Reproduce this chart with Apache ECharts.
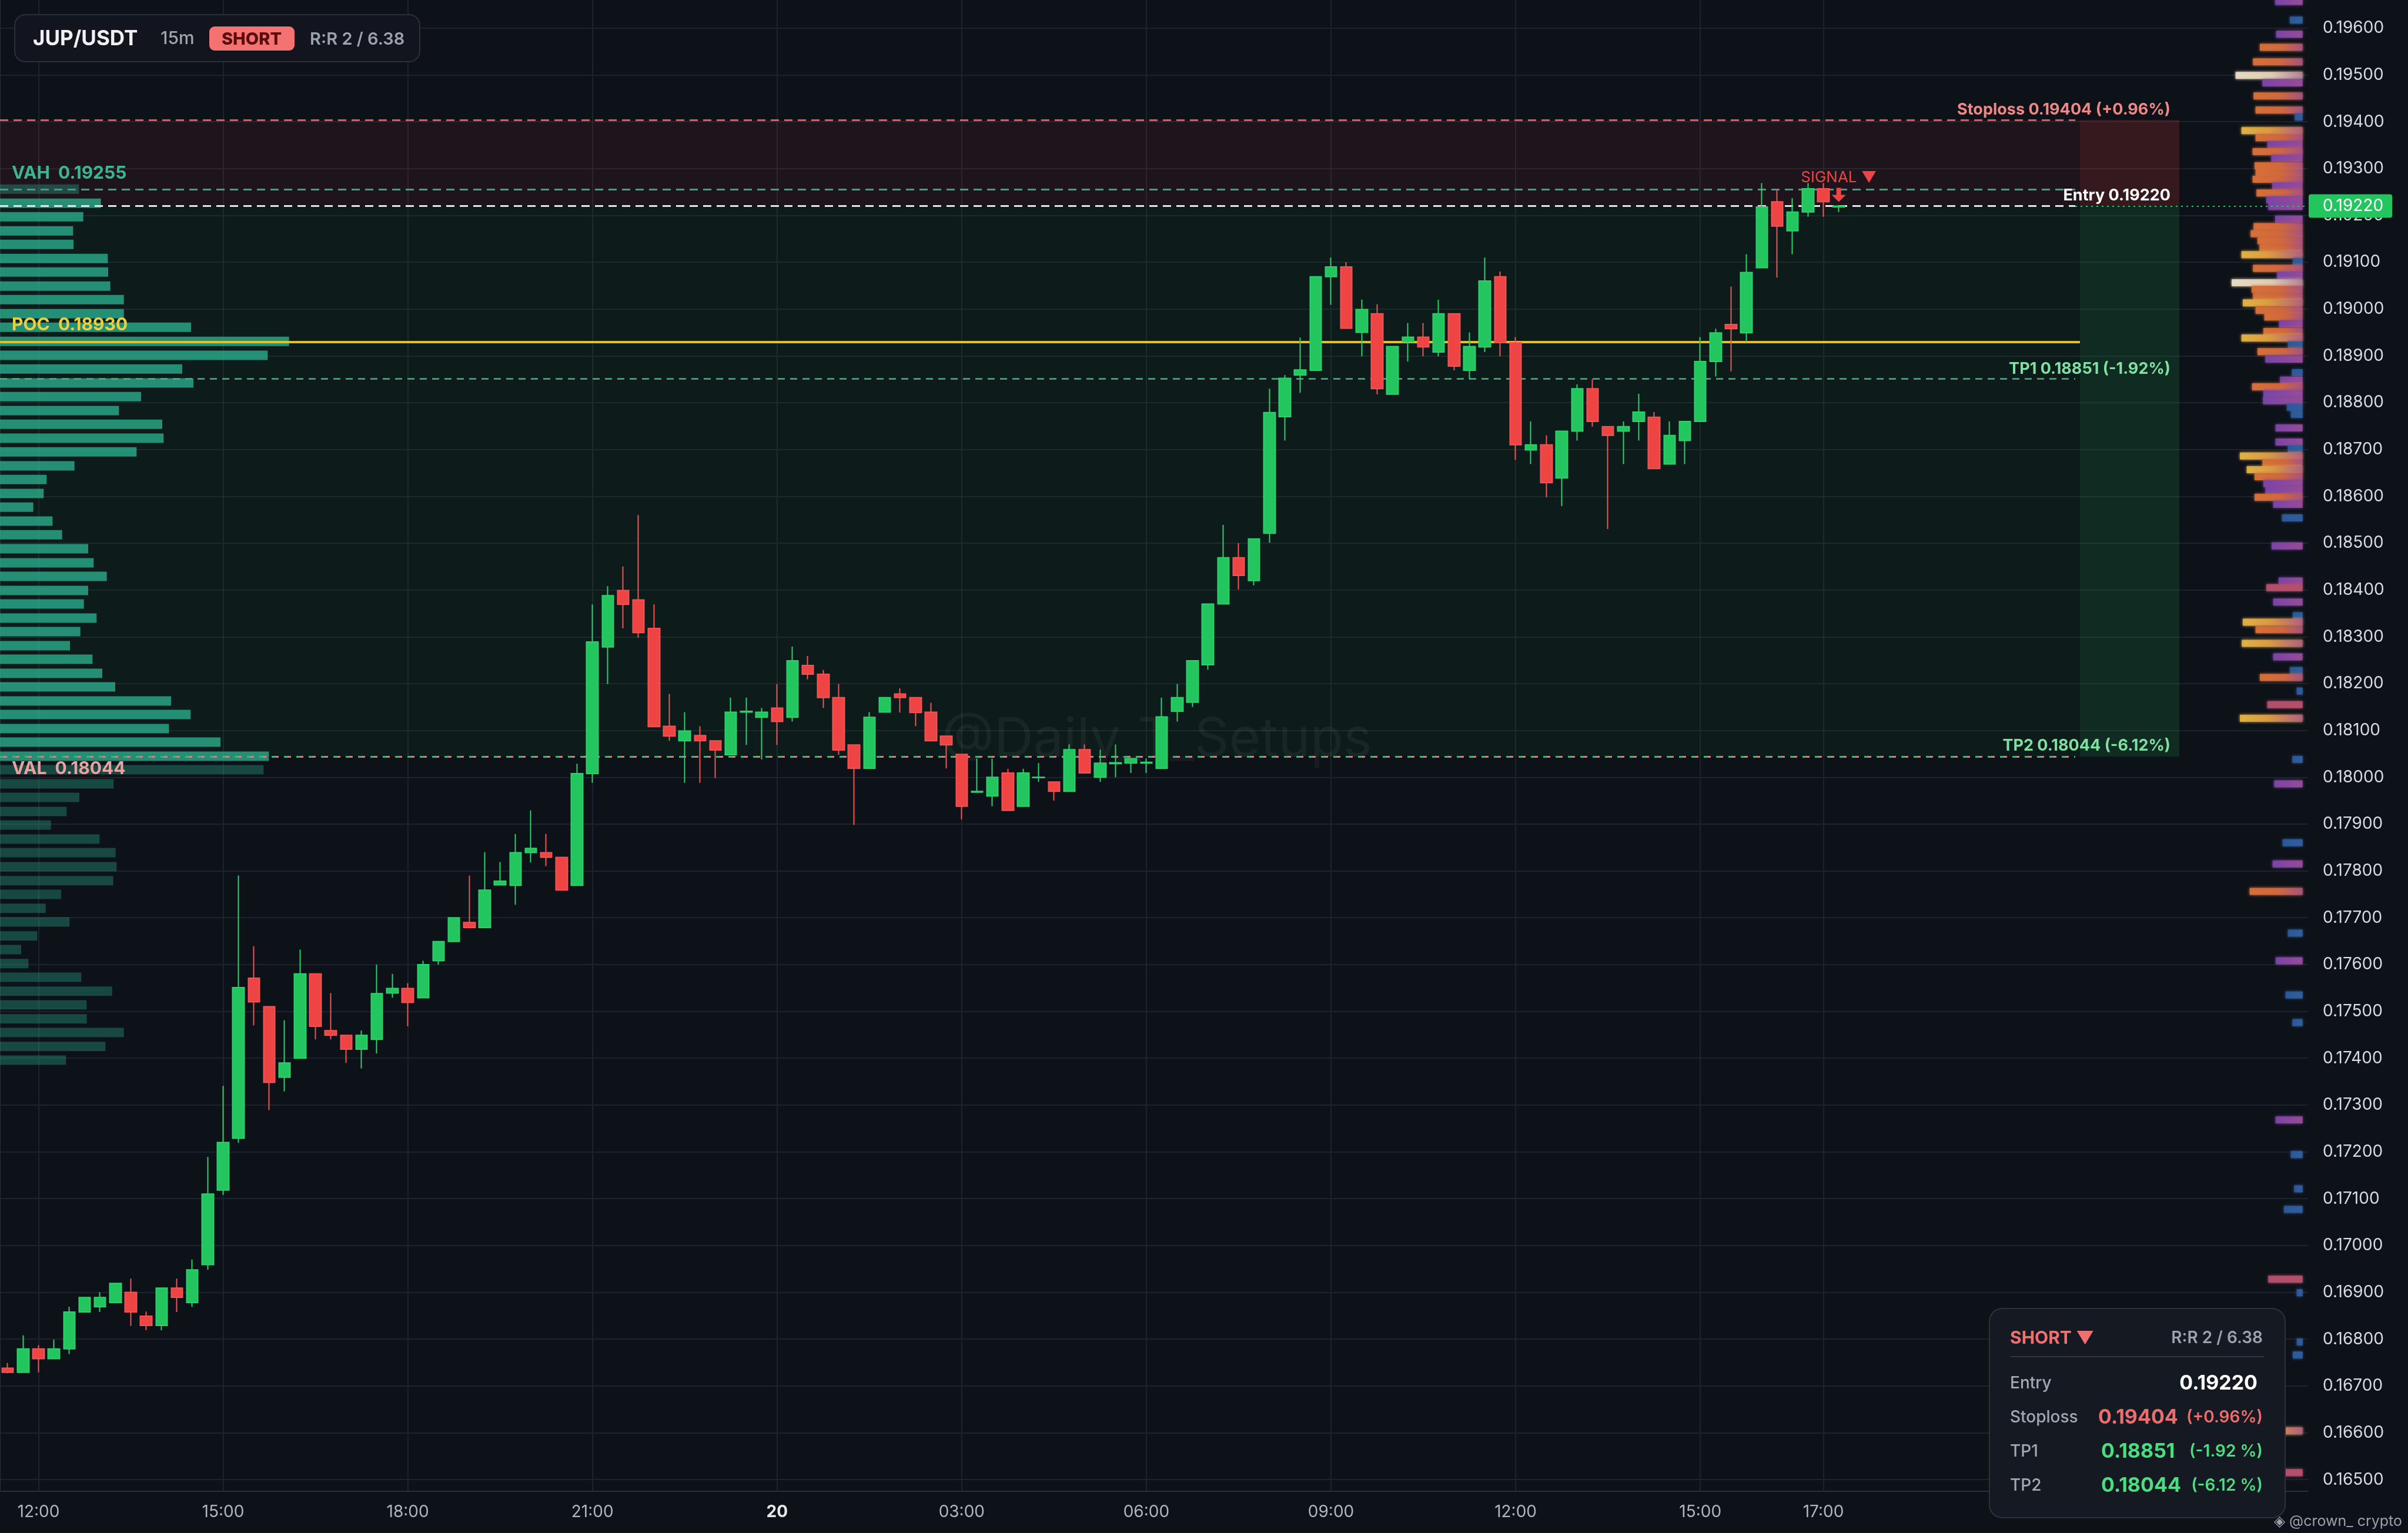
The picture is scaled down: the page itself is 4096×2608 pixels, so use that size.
<!DOCTYPE html>
<html>
<head>
<meta charset="utf-8">
<title>JUP/USDT 15m</title>
<script src="https://cdn.jsdelivr.net/npm/echarts@6.0.0/dist/echarts.min.js"></script>
<style>
html,body{margin:0;padding:0;background:#0d1118;}
#chart{width:4096px;height:2608px;}
</style>
</head>
<body>
<div id="chart"></div>
<script>
// ---------- DATA ----------
const symbolName = 'JUP/USDT';
const timeframe = '15m';

// 15-minute slots starting 19th 11:30 (120 candles, axis has room for 150 slots)
const categories = [];
for (let i = 0; i < 150; i++) {
  const m = 11 * 60 + 30 + 15 * i;
  const day = 19 + Math.floor(m / 1440);
  const mm = m % 1440;
  categories.push(day + ' ' + String(Math.floor(mm / 60)).padStart(2, '0') + ':' + String(mm % 60).padStart(2, '0'));
}
const timeTicks = ['19 12:00', '19 15:00', '19 18:00', '19 21:00', '20 00:00', '20 03:00', '20 06:00', '20 09:00', '20 12:00', '20 15:00', '20 17:00'];
const priceTicks = [0.165, 0.166, 0.167, 0.168, 0.169, 0.170, 0.171, 0.172, 0.173, 0.174, 0.175, 0.176, 0.177, 0.178, 0.179, 0.180,
  0.181, 0.182, 0.183, 0.184, 0.185, 0.186, 0.187, 0.188, 0.189, 0.190, 0.191, 0.192, 0.193, 0.194, 0.195, 0.196];

const opens = [
  0.16738, 0.16729, 0.16779, 0.16758, 0.16779, 0.16858, 0.16869, 0.16878, 0.16900, 0.16849,
  0.16829, 0.16909, 0.16878, 0.16959, 0.17118, 0.17229, 0.17571, 0.17510, 0.17359, 0.17400,
  0.17580, 0.17459, 0.17449, 0.17419, 0.17440, 0.17539, 0.17549, 0.17529, 0.17608, 0.17649,
  0.17690, 0.17679, 0.17770, 0.17769, 0.17839, 0.17839, 0.17829, 0.17769, 0.18008, 0.18278,
  0.18399, 0.18379, 0.18318, 0.18109, 0.18078, 0.18089, 0.18078, 0.18048, 0.18139, 0.18128,
  0.18148, 0.18128, 0.18239, 0.18220, 0.18170, 0.18069, 0.18019, 0.18139, 0.18178, 0.18170,
  0.18139, 0.18088, 0.18049, 0.17968, 0.17960, 0.18009, 0.17938, 0.17999, 0.17990, 0.17970,
  0.18059, 0.18000, 0.18029, 0.18030, 0.18030, 0.18019, 0.18141, 0.18160, 0.18240, 0.18370,
  0.18469, 0.18420, 0.18521, 0.18770, 0.18859, 0.18869, 0.19069, 0.19090, 0.18950, 0.18990,
  0.18818, 0.18930, 0.18940, 0.18908, 0.18990, 0.18869, 0.18919, 0.19069, 0.18928, 0.18699,
  0.18710, 0.18639, 0.18739, 0.18830, 0.18749, 0.18739, 0.18760, 0.18769, 0.18669, 0.18719,
  0.18760, 0.18888, 0.18967, 0.18949, 0.19088, 0.19229, 0.19167, 0.19207, 0.19257, 0.19218
];
const closes = [
  0.16729, 0.16779, 0.16758, 0.16779, 0.16858, 0.16889, 0.16889, 0.16919, 0.16858, 0.16829,
  0.16909, 0.16889, 0.16948, 0.17110, 0.17220, 0.17551, 0.17520, 0.17348, 0.17390, 0.17580,
  0.17468, 0.17449, 0.17419, 0.17449, 0.17538, 0.17549, 0.17519, 0.17600, 0.17649, 0.17700,
  0.17679, 0.17759, 0.17778, 0.17839, 0.17848, 0.17829, 0.17759, 0.18008, 0.18289, 0.18388,
  0.18369, 0.18309, 0.18108, 0.18088, 0.18099, 0.18078, 0.18058, 0.18139, 0.18141, 0.18139,
  0.18119, 0.18249, 0.18220, 0.18170, 0.18058, 0.18019, 0.18128, 0.18170, 0.18170, 0.18138,
  0.18078, 0.18069, 0.17938, 0.17970, 0.18000, 0.17929, 0.18009, 0.18000, 0.17970, 0.18059,
  0.18009, 0.18030, 0.18031, 0.18040, 0.18032, 0.18129, 0.18170, 0.18249, 0.18370, 0.18469,
  0.18431, 0.18509, 0.18779, 0.18852, 0.18870, 0.19069, 0.19090, 0.18959, 0.18999, 0.18830,
  0.18920, 0.18940, 0.18919, 0.18990, 0.18878, 0.18920, 0.19060, 0.18928, 0.18710, 0.18710,
  0.18629, 0.18739, 0.18830, 0.18760, 0.18730, 0.18749, 0.18780, 0.18659, 0.18730, 0.18760,
  0.18888, 0.18949, 0.18958, 0.19078, 0.19218, 0.19177, 0.19207, 0.19257, 0.19229, 0.19220
];
const lows = [
  0.16727, 0.16729, 0.16729, 0.16758, 0.16768, 0.16858, 0.16858, 0.16878, 0.16828, 0.16819,
  0.16819, 0.16858, 0.16869, 0.16948, 0.17108, 0.17219, 0.17470, 0.17289, 0.17329, 0.17400,
  0.17440, 0.17440, 0.17390, 0.17378, 0.17410, 0.17529, 0.17468, 0.17529, 0.17600, 0.17649,
  0.17679, 0.17679, 0.17770, 0.17728, 0.17818, 0.17810, 0.17759, 0.17769, 0.17988, 0.18199,
  0.18318, 0.18298, 0.18108, 0.18078, 0.17988, 0.17988, 0.17998, 0.18048, 0.18069, 0.18038,
  0.18069, 0.18119, 0.18209, 0.18148, 0.18048, 0.17898, 0.18019, 0.18139, 0.18138, 0.18109,
  0.18078, 0.18019, 0.17910, 0.17968, 0.17938, 0.17929, 0.17938, 0.17990, 0.17950, 0.17970,
  0.18009, 0.17990, 0.18000, 0.18009, 0.18009, 0.18019, 0.18119, 0.18150, 0.18230, 0.18370,
  0.18401, 0.18410, 0.18501, 0.18719, 0.18821, 0.18869, 0.19009, 0.18959, 0.18899, 0.18818,
  0.18818, 0.18888, 0.18899, 0.18899, 0.18869, 0.18850, 0.18908, 0.18899, 0.18678, 0.18669,
  0.18598, 0.18579, 0.18719, 0.18749, 0.18530, 0.18669, 0.18719, 0.18659, 0.18669, 0.18669,
  0.18760, 0.18856, 0.18867, 0.18930, 0.19088, 0.19067, 0.19117, 0.19197, 0.19197, 0.19207
];
const highs = [
  0.16749, 0.16808, 0.16787, 0.16799, 0.16869, 0.16889, 0.16900, 0.16919, 0.16929, 0.16859,
  0.16909, 0.16929, 0.16970, 0.17189, 0.17341, 0.17790, 0.17639, 0.17510, 0.17481, 0.17632,
  0.17580, 0.17539, 0.17449, 0.17459, 0.17600, 0.17580, 0.17560, 0.17608, 0.17649, 0.17700,
  0.17790, 0.17840, 0.17819, 0.17879, 0.17929, 0.17879, 0.17829, 0.18029, 0.18369, 0.18408,
  0.18450, 0.18560, 0.18369, 0.18178, 0.18139, 0.18109, 0.18078, 0.18170, 0.18170, 0.18148,
  0.18199, 0.18279, 0.18259, 0.18229, 0.18199, 0.18069, 0.18139, 0.18170, 0.18190, 0.18170,
  0.18159, 0.18088, 0.18049, 0.18040, 0.18040, 0.18018, 0.18018, 0.18030, 0.17990, 0.18070,
  0.18070, 0.18059, 0.18070, 0.18040, 0.18040, 0.18170, 0.18199, 0.18249, 0.18370, 0.18539,
  0.18500, 0.18509, 0.18830, 0.18859, 0.18939, 0.19069, 0.19110, 0.19100, 0.19020, 0.19010,
  0.18920, 0.18970, 0.18970, 0.19020, 0.18990, 0.18950, 0.19110, 0.19080, 0.18940, 0.18760,
  0.18730, 0.18739, 0.18839, 0.18850, 0.18749, 0.18760, 0.18819, 0.18780, 0.18760, 0.18760,
  0.18940, 0.18958, 0.19048, 0.19117, 0.19269, 0.19257, 0.19237, 0.19269, 0.19269, 0.19222
];

// Trade levels
const entryPrice = 0.19220;
const stopLoss = 0.19404;
const tp1 = 0.18851;
const tp2 = 0.18044;
const vahPrice = 0.19255;
const pocPrice = 0.18930;
const valPrice = 0.18044;
const signalIndex = 119;

// Left volume profile (session)
const profileLPrices = [
  0.19256, 0.19226, 0.19197, 0.19167, 0.19138, 0.19108, 0.19079, 0.19049, 0.19020, 0.18990,
  0.18961, 0.18931, 0.18901, 0.18872, 0.18842, 0.18813, 0.18783, 0.18754, 0.18724, 0.18695,
  0.18665, 0.18636, 0.18606, 0.18577, 0.18547, 0.18518, 0.18488, 0.18458, 0.18429, 0.18399,
  0.18370, 0.18340, 0.18311, 0.18281, 0.18252, 0.18222, 0.18193, 0.18163, 0.18134, 0.18104,
  0.18075, 0.18045, 0.18016, 0.17986, 0.17957, 0.17927, 0.17898, 0.17868, 0.17839, 0.17809,
  0.17779, 0.17750, 0.17720, 0.17691, 0.17661, 0.17632, 0.17602, 0.17573, 0.17543, 0.17514,
  0.17484, 0.17455, 0.17425, 0.17396
];
const profileLVol = [
  403, 515, 425, 373, 375, 550, 552, 563, 632, 632,
  975, 1475, 1366, 930, 987, 720, 607, 828, 835, 697,
  380, 238, 223, 170, 268, 317, 450, 478, 545, 450,
  428, 493, 410, 357, 472, 522, 588, 873, 973, 862,
  1125, 1372, 1345, 580, 405, 340, 260, 508, 590, 595,
  578, 312, 233, 355, 190, 108, 145, 415, 572, 442,
  443, 632, 538, 337
];

// Right volume profile (visible range, coloured)
const profileRPrices = [
  0.19657, 0.19617, 0.19587, 0.19559, 0.19528, 0.19499, 0.19483, 0.19455, 0.19425, 0.19410,
  0.19381, 0.19366, 0.19351, 0.19336, 0.19322, 0.19306, 0.19292, 0.19277, 0.19263, 0.19248,
  0.19233, 0.19219, 0.19192, 0.19176, 0.19161, 0.19146, 0.19131, 0.19116, 0.19101, 0.19087,
  0.19072, 0.19056, 0.19042, 0.19027, 0.19013, 0.18997, 0.18983, 0.18968, 0.18952, 0.18938,
  0.18923, 0.18909, 0.18893, 0.18864, 0.18848, 0.18834, 0.18819, 0.18804, 0.18790, 0.18775,
  0.18746, 0.18716, 0.18701, 0.18686, 0.18671, 0.18657, 0.18642, 0.18627, 0.18613, 0.18598,
  0.18583, 0.18554, 0.18494, 0.18419, 0.18405, 0.18374, 0.18345, 0.18331, 0.18315, 0.18286,
  0.18257, 0.18228, 0.18213, 0.18184, 0.18155, 0.18126, 0.18038, 0.17986, 0.17860, 0.17815,
  0.17756, 0.17667, 0.17608, 0.17535, 0.17476, 0.17268, 0.17194, 0.17121, 0.17077, 0.16928,
  0.16899, 0.16794, 0.16766, 0.16604, 0.16515
];
const profileRVol = [
  140, 65, 135, 218, 253, 342, 205, 250, 240, 40,
  312, 240, 180, 255, 160, 245, 240, 255, 155, 235,
  185, 175, 140, 250, 265, 230, 220, 312, 50, 253,
  130, 362, 260, 253, 305, 240, 195, 120, 200, 312,
  75, 230, 190, 55, 115, 258, 200, 202, 80, 60,
  138, 138, 75, 320, 205, 285, 245, 200, 190, 245,
  150, 105, 158, 122, 185, 150, 50, 305, 240, 310,
  150, 65, 218, 30, 180, 320, 52, 145, 102, 153,
  270, 75, 137, 87, 52, 138, 60, 43, 95, 175,
  30, 30, 50, 300, 250
];
const profileRColor = [
  'p', 'b', 'p', 'o', 'o', 'c', 'p', 'o', 'o', 'b',
  'y', 'o', 'p', 'o', 'p', 'o', 'o', 'o', 'p', 'o',
  'p', 'p', 'p', 'o', 'o', 'o', 'o', 'y', 'b', 'o',
  'p', 'c', 'o', 'o', 'y', 'o', 'o', 'p', 'o', 'y',
  'b', 'o', 'p', 'b', 'p', 'o', 'p', 'p', 'b', 'b',
  'p', 'p', 'b', 'y', 'o', 'y', 'o', 'p', 'p', 'o',
  'p', 'b', 'p', 'p', 'r', 'p', 'b', 'y', 'o', 'y',
  'p', 'b', 'o', 'b', 'r', 'y', 'b', 'p', 'b', 'p',
  'o', 'b', 'p', 'b', 'b', 'p', 'b', 'b', 'b', 'r',
  'b', 'b', 'b', 'y', 'r'
];

// ---------- LAYOUT / STYLE ----------
const W = 4096, H = 2608;
const GRID_RIGHT = 170, GRID_BOTTOM = 71;
const PLOT_W = W - GRID_RIGHT;
const U = 3;                       // helper axis units per pixel
const AX1_MAX = PLOT_W * U;
const u = px => px * U;
const LINE_END = 3530, ZONE_SPLIT = 3538, ZONE_END = 3707, LABEL_RIGHT = 3692;
const BG = '#0d1118';
const GRID_COL = '#1e222b';
const UP = '#22c55e', DOWN = '#ef4444';

const rStops = {
  o: [[0, '#d9713a'], [0.55, '#d2683d'], [1, '#a4508c']],
  y: [[0, '#e3b446'], [0.45, '#dc9a42'], [1, '#b0588a']],
  c: [[0, '#e9dfc5'], [0.55, '#e2cdb0'], [1, '#b07a96']],
  p: [[0, '#7d45a8'], [1, '#9b4d98']],
  b: [[0, '#2b5a9a'], [1, '#335fa0']],
  r: [[0, '#b4506a'], [1, '#b8506e']]
};

const candleData = opens.map((o, i) => [o, closes[i], lows[i], highs[i]]);
const lastClose = closes[closes.length - 1];
const pct = p => ((p / entryPrice - 1) * 100);

const chart = echarts.init(document.getElementById('chart'), null, { renderer: 'canvas', width: W, height: H });

const tickFn = (idx, val) => timeTicks.indexOf(val) >= 0;

const option = {
  animation: false,
  backgroundColor: BG,
  textStyle: { fontFamily: 'Inter' },
  grid: { left: 0, right: GRID_RIGHT, top: 0, bottom: GRID_BOTTOM, containLabel: false },
  xAxis: [
    {
      type: 'category', data: categories, boundaryGap: true,
      axisLine: { show: true, lineStyle: { color: '#2a2e39', width: 2 } },
      axisTick: { show: false },
      axisLabel: {
        interval: tickFn, color: '#b2b5be', fontSize: 28, margin: 22, fontFamily: 'Inter',
        formatter: v => {
          const parts = v.split(' ');
          return parts[1] === '00:00' ? '{d|' + parts[0] + '}' : parts[1];
        },
        rich: { d: { fontWeight: 'bold', color: '#e6e8eb', fontSize: 28, fontFamily: 'Inter' } }
      },
      splitLine: { show: true, interval: tickFn, alignWithLabel: true, lineStyle: { color: GRID_COL, width: 2 } }
    },
    { type: 'value', min: 0, max: AX1_MAX, show: false, gridIndex: 0 },
    { type: 'value', min: -28, max: AX1_MAX - 28, inverse: true, show: false, gridIndex: 0 }
  ],
  yAxis: [{
    type: 'value', position: 'right', min: 0.16475, max: 0.1966, scale: true,
    axisLine: { show: true, lineStyle: { color: '#2a2e39', width: 2 } },
    axisTick: { show: false, customValues: priceTicks },
    axisLabel: { customValues: priceTicks, formatter: v => v.toFixed(5), color: '#d8dbe0', fontSize: 28, margin: 25, fontFamily: 'Inter' },
    splitLine: { show: true, lineStyle: { color: GRID_COL, width: 2 } }
  }],
  series: [
    {
      name: 'zones', type: 'line', xAxisIndex: 1, yAxisIndex: 0, data: [], z: 1, silent: true,
      markArea: {
        silent: true, label: { show: false },
        data: [
          [{ coord: [0, stopLoss], itemStyle: { color: 'rgba(239,68,68,0.075)' } }, { coord: [u(ZONE_SPLIT), entryPrice] }],
          [{ coord: [u(ZONE_SPLIT), stopLoss], itemStyle: { color: 'rgba(239,68,68,0.18)' } }, { coord: [u(ZONE_END), entryPrice] }],
          [{ coord: [0, entryPrice], itemStyle: { color: 'rgba(34,197,94,0.055)' } }, { coord: [u(ZONE_SPLIT), tp2] }],
          [{ coord: [u(ZONE_SPLIT), entryPrice], itemStyle: { color: 'rgba(34,197,94,0.15)' } }, { coord: [u(ZONE_END), tp2] }]
        ]
      }
    },
    {
      name: 'profileLeft', type: 'custom', xAxisIndex: 1, yAxisIndex: 0, z: 2, silent: true,
      encode: { x: 0, y: 1 },
      data: profileLPrices.map((p, i) => [profileLVol[i], p]),
      renderItem: function (params, api) {
        const vol = api.value(0), price = api.value(1);
        const a = api.coord([0, price]);
        const b = api.coord([vol, price]);
        const h = 16;
        const inVA = price <= vahPrice + 1e-6 && price >= valPrice - 1e-6;
        return {
          type: 'rect',
          shape: { x: a[0], y: a[1] - h / 2, width: b[0] - a[0], height: h },
          style: { fill: inVA ? 'rgba(44,172,140,0.80)' : 'rgba(44,172,140,0.36)' }
        };
      }
    },
    {
      name: 'profileRight', type: 'custom', xAxisIndex: 2, yAxisIndex: 0, z: 2, silent: true,
      encode: { x: 0, y: 1 },
      data: profileRPrices.map((p, i) => [profileRVol[i], p]),
      renderItem: function (params, api) {
        const len = api.value(0), price = api.value(1);
        const key = profileRColor[params.dataIndex];
        const a = api.coord([0, price]);
        const b = api.coord([len, price]);
        const h = 12;
        const stops = rStops[key].map(s => ({ offset: s[0], color: s[1] }));
        return {
          type: 'rect',
          shape: { x: b[0], y: a[1] - h / 2, width: a[0] - b[0], height: h },
          style: {
            fill: new echarts.graphic.LinearGradient(0, 0, 1, 0, stops), opacity: 0.9,
            shadowBlur: 5, shadowColor: rStops[key][0][1]
          }
        };
      }
    },
    {
      name: symbolName, type: 'candlestick', xAxisIndex: 0, yAxisIndex: 0, z: 5,
      data: candleData, barWidth: 20,
      itemStyle: { color: UP, color0: DOWN, borderColor: '#2fd06c', borderColor0: '#f05555', borderWidth: 2 },
      markPoint: {
        silent: true,
        data: [{
          coord: [signalIndex, closes[signalIndex]],
          symbol: 'path://M4,0 L8,0 L8,6 L12,6 L6,12 L0,6 L4,6 Z',
          symbolSize: [24, 24], symbolOffset: [0, -19],
          itemStyle: { color: DOWN },
          label: { show: true, position: 'top', distance: 4, formatter: 'SIGNAL ▼', color: DOWN, fontSize: 26, fontFamily: 'Inter' }
        }]
      }
    },
    {
      name: 'levels', type: 'line', xAxisIndex: 1, yAxisIndex: 0, data: [], z: 6, silent: true,
      markLine: {
        silent: true, symbol: ['none', 'none'], label: { show: false },
        data: [
          [{ coord: [0, stopLoss], lineStyle: { color: '#d65c5f', type: [14, 9], width: 3 } }, { coord: [u(LINE_END), stopLoss] }],
          [{ coord: [0, vahPrice], lineStyle: { color: '#36a487', type: [14, 9], width: 3 } }, { coord: [u(LINE_END), vahPrice] }],
          [{ coord: [0, entryPrice], lineStyle: { color: '#e4e4e4', type: [14, 9], width: 3 } }, { coord: [u(LINE_END), entryPrice] }],
          [{ coord: [0, pocPrice], lineStyle: { color: '#e5c11f', type: 'solid', width: 4 } }, { coord: [u(ZONE_SPLIT), pocPrice] }],
          [{ coord: [0, tp1], lineStyle: { color: '#41b87a', type: [12, 9], width: 2.5 } }, { coord: [u(LINE_END), tp1] }],
          [{ coord: [0, tp2], lineStyle: { color: '#45b07a', type: [12, 9], width: 3 } }, { coord: [u(LINE_END), tp2] }],
          [{ coord: [0, valPrice], lineStyle: { color: '#c98585', type: [6, 15], dashOffset: 15, width: 3 } }, { coord: [u(LINE_END), valPrice] }],
          [{
            coord: [u(LINE_END), lastClose], lineStyle: { color: UP, type: [3, 6], width: 2 },
            label: {
              show: true, position: 'end', distance: 1, formatter: lastClose.toFixed(5),
              backgroundColor: UP, color: '#ffffff', fontSize: 28, fontFamily: 'Inter',
              padding: [6, 15, 6, 24], borderRadius: 4
            }
          }, { coord: [AX1_MAX, lastClose] }]
        ]
      }
    }
  ]
};

chart.setOption(option);

// ---------- ANNOTATIONS (text placed at level prices) ----------
const yOf = p => chart.convertToPixel({ yAxisIndex: 0 }, p);
function txt(x, y, text, fill, font, align, z) {
  return {
    type: 'text', x: x, y: y, z: z || 20, silent: true,
    style: { text: text, fill: fill, font: font, textAlign: align || 'left', align: align || 'left', textVerticalAlign: 'middle', verticalAlign: 'middle' }
  };
}
const fmtPct = v => (v >= 0 ? '+' : '') + v.toFixed(2);

const graphics = [
  // watermark
  txt(1968, 1259, '@Daily_T_Setups', 'rgba(255,255,255,0.05)', '400 92px Inter', 'center', 1),
  // level labels
  txt(LABEL_RIGHT, yOf(stopLoss) - 17, 'Stoploss ' + stopLoss.toFixed(5) + ' (' + fmtPct(pct(stopLoss)) + '%)', '#f08787', '700 27px Inter', 'right'),
  txt(LABEL_RIGHT, yOf(entryPrice) - 18, 'Entry ' + entryPrice.toFixed(5), '#ffffff', '700 27px Inter', 'right'),
  txt(LABEL_RIGHT, yOf(tp1) - 17, 'TP1 ' + tp1.toFixed(5) + ' (' + fmtPct(pct(tp1)) + '%)', '#7fe0a2', '700 27px Inter', 'right'),
  txt(LABEL_RIGHT, yOf(tp2) - 18, 'TP2 ' + tp2.toFixed(5) + ' (' + fmtPct(pct(tp2)) + '%)', '#7fe0a2', '700 27px Inter', 'right'),
  txt(20, yOf(vahPrice) - 28, 'VAH  ' + vahPrice.toFixed(5), '#3db58f', '700 30px Inter', 'left'),
  txt(20, yOf(pocPrice) - 28, 'POC  ' + pocPrice.toFixed(5), '#e8d040', '700 30px Inter', 'left'),
  txt(20, yOf(valPrice) + 21, 'VAL  ' + valPrice.toFixed(5), '#e8a2a2', '700 30px Inter', 'left'),

  // title box
  { type: 'rect', z: 20, silent: true, shape: { x: 25, y: 25, width: 689, height: 80, r: 18 }, style: { fill: '#12151d', stroke: '#2a2f3a', lineWidth: 2 } },
  txt(56, 66, symbolName, '#eef0f3', '700 35px Inter', 'left', 21),
  txt(273, 66, timeframe, '#a0a6b0', '500 30px Inter', 'left', 21),
  { type: 'rect', z: 21, silent: true, shape: { x: 356, y: 45, width: 145, height: 41, r: 9 }, style: { fill: '#f47272' } },
  txt(428, 67, 'SHORT', '#5a0d0d', '800 29px Inter', 'center', 22),
  txt(527, 67, 'R:R 2 / 6.38', '#9ca3af', '600 29px Inter', 'left', 21),

  // info panel
  { type: 'rect', z: 20, silent: true, shape: { x: 3384, y: 2226, width: 503, height: 356, r: 22 }, style: { fill: '#151922', stroke: '#2c313c', lineWidth: 2 } },
  txt(3419, 2277, 'SHORT ▼', '#f07070', '700 30px Inter', 'left', 21),
  txt(3849, 2277, 'R:R 2 / 6.38', '#9ca3af', '600 28px Inter', 'right', 21),
  { type: 'line', z: 21, silent: true, shape: { x1: 3419, y1: 2308, x2: 3851, y2: 2308 }, style: { stroke: '#2e3440', lineWidth: 2 } },
  txt(3419, 2354, 'Entry', '#a1a7b3', '500 28px Inter', 'left', 21),
  txt(3840, 2354, entryPrice.toFixed(5), '#ffffff', '700 34px Inter', 'right', 21),
  txt(3419, 2412, 'Stoploss', '#a1a7b3', '500 28px Inter', 'left', 21),
  txt(3569, 2412, stopLoss.toFixed(5), '#f06b6b', '700 34px Inter', 'left', 21),
  txt(3849, 2412, '(' + fmtPct(pct(stopLoss)) + '%)', '#f06b6b', '600 28px Inter', 'right', 21),
  txt(3419, 2470, 'TP1', '#a1a7b3', '500 28px Inter', 'left', 21),
  txt(3574, 2470, tp1.toFixed(5), '#4ade80', '700 34px Inter', 'left', 21),
  txt(3849, 2470, '(' + fmtPct(pct(tp1)) + ' %)', '#4ade80', '600 28px Inter', 'right', 21),
  txt(3419, 2528, 'TP2', '#a1a7b3', '500 28px Inter', 'left', 21),
  txt(3574, 2528, tp2.toFixed(5), '#4ade80', '700 34px Inter', 'left', 21),
  txt(3849, 2528, '(' + fmtPct(pct(tp2)) + ' %)', '#4ade80', '600 28px Inter', 'right', 21),

  // credit
  txt(3868, 2588, '◈ @crown_ crypto', '#9aa0aa', '400 25px Inter', 'left', 21)
];
chart.setOption({ graphic: graphics });
</script>
</body>
</html>
